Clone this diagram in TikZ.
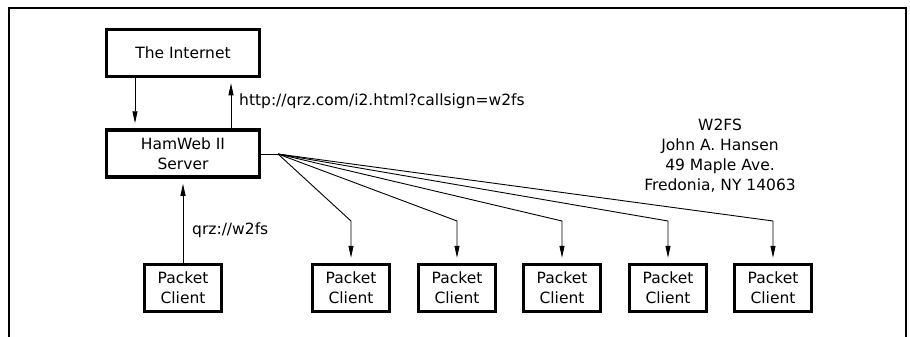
\documentclass[tikz,border=0pt]{standalone}
\usepackage{fontspec}
\setmainfont{DejaVu Sans}
\usetikzlibrary{arrows.meta}
\begin{document}
\begin{tikzpicture}[x=1pt,y=-1pt,
  every node/.style={font=\fontsize{15.5}{20}\selectfont},
  bigbox/.style={draw,line width=3.5pt,minimum width=153pt,minimum height=47pt,inner sep=0pt,align=center},
  pcbox/.style={draw,line width=3.5pt,minimum width=77pt,minimum height=47pt,inner sep=0pt,align=center},
  lbl/.style={anchor=west,inner sep=0pt},
  conn/.style={line width=0.9pt},
  arr/.style={conn,-{Triangle[length=12pt,width=5pt]},shorten >=5pt}]
\useasboundingbox (0,0) rectangle (910,337);
% frame
\draw[line width=2pt] (9,340) -- (9,8) -- (906,8) -- (906,340);
% nodes
\node[bigbox] (inet) at (183,53) {The Internet};
\node[bigbox] (srv) at (183,153.5) {HamWeb II\\Server};
\node[pcbox] (c0) at (183,288) {Packet\\Client};
\node[pcbox] (c1) at (351,288) {Packet\\Client};
\node[pcbox] (c2) at (457,288) {Packet\\Client};
\node[pcbox] (c3) at (562,288) {Packet\\Client};
\node[pcbox] (c4) at (668,288) {Packet\\Client};
\node[pcbox] (c5) at (773,288) {Packet\\Client};
% labels
\node[lbl] (http) at (239,101) {http://qrz.com/i2.html?callsign=w2fs};
\node[lbl] (qrz) at (192,230) {qrz://w2fs};
\node[align=center,inner sep=0pt] (addr) at (720,156) {W2FS\\John A. Hansen\\49 Maple Ave.\\Fredonia, NY 14063};
% helper coordinates
\coordinate (xa) at (135,0);
\coordinate (xb) at (231,0);
\coordinate (fan) at (278,154);
% connectors
\draw[arr] (inet.south -| xa) -- (srv.north -| xa);
\draw[arr] (srv.north -| xb) -- (inet.south -| xb);
\draw[arr] (c0.north) -- (srv.south);
\draw[conn] (srv.east |- fan) -- (fan);
\foreach \c in {c1,c2,c3,c4,c5}{
  \draw[arr] (fan) -- (\c.north |- 0,221) -- (\c.north);
}
\end{tikzpicture}
\end{document}
